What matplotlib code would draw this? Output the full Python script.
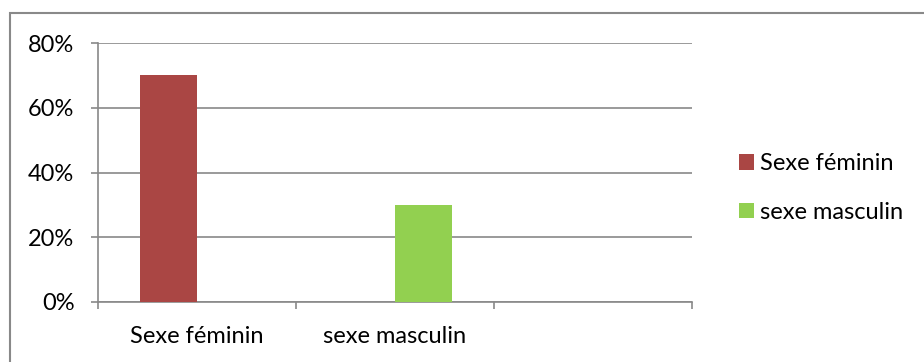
import matplotlib
matplotlib.use("Agg")
import matplotlib.pyplot as plt
from matplotlib.patches import Rectangle
from matplotlib.ticker import FixedLocator, PercentFormatter
import numpy as np

# Données
categories = ["Sexe féminin", "sexe masculin", ""]
serie_feminin = [0.70, 0.0, 0.0]
serie_masculin = [0.0, 0.30, 0.0]
noms_series = ["Sexe féminin", "sexe masculin"]
y_ticks = [0.0, 0.2, 0.4, 0.6, 0.8]

rouge = "#AA4644"
vert = "#92D050"
gris = "#898989"

plt.rcParams["font.family"] = ["Lato", "DejaVu Sans"]
plt.rcParams["font.size"] = 17

fig = plt.figure(figsize=(9.24, 3.62), dpi=100)
ax = fig.add_axes([98 / 924, 60 / 362, (692 - 98) / 924, (302 - 43) / 362])

x = np.arange(len(categories))
largeur = 0.288
ax.bar(x - largeur / 2, serie_feminin, largeur, color=rouge, label=noms_series[0], zorder=3)
ax.bar(x + largeur / 2, serie_masculin, largeur, color=vert, label=noms_series[1], zorder=3)

ax.set_xlim(-0.5, len(categories) - 0.5)
ax.set_ylim(0, 0.8)
ax.set_yticks(y_ticks)
ax.yaxis.set_major_formatter(PercentFormatter(1.0, decimals=0))
ax.yaxis.grid(True, color=gris, linewidth=1.2, zorder=0)

# Étiquettes au centre, graduations aux frontières des catégories
ax.set_xticks(x)
ax.set_xticklabels(categories)
ax.xaxis.set_minor_locator(FixedLocator(np.arange(len(categories) + 1) - 0.5))
ax.tick_params(axis="x", which="major", length=0, pad=17)
ax.tick_params(axis="x", which="minor", length=5, width=1.2, color=gris)
ax.tick_params(axis="y", length=5, width=1.2, color=gris, pad=12)

for cote in ["top", "right"]:
    ax.spines[cote].set_visible(False)
for cote in ["left", "bottom"]:
    ax.spines[cote].set_color(gris)
    ax.spines[cote].set_linewidth(1.2)

leg = fig.legend(loc="center left", bbox_to_anchor=(718 / 924, 1 - 188 / 362),
                 frameon=False, handlelength=0.62, handleheight=0.62,
                 handletextpad=0.25, labelspacing=1.15)

# Cadre du graphique
fig.add_artist(Rectangle((10 / 924, -0.2), 1.2, 1.2 - 13 / 362, transform=fig.transFigure,
                         fill=False, edgecolor=gris, linewidth=1.5))

fig.savefig("out.png", dpi=100)
